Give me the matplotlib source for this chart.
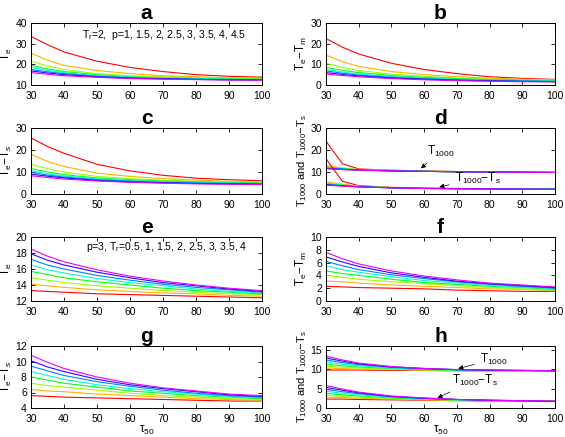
import numpy as np
import matplotlib
matplotlib.use("Agg")
import matplotlib.pyplot as plt

plt.rcParams['font.family'] = ['Liberation Sans', 'DejaVu Sans']
plt.rcParams['mathtext.default'] = 'regular'

# tau_50 sample points
tau = [30, 35, 40, 50, 60, 70, 80, 90, 100]

# ---- top block: Tr=2, p = 1 ... 4.5 (red -> magenta)
a_Te = [
    [33.5, 29.5, 26.0, 21.5, 18.5, 16.5, 15.0, 14.2, 13.8],
    [25.5, 22.0, 19.5, 17.0, 15.5, 14.5, 14.0, 13.5, 13.2],
    [21.5, 19.2, 17.5, 15.5, 14.5, 14.0, 13.5, 13.2, 13.0],
    [19.5, 17.8, 16.5, 15.0, 14.0, 13.5, 13.2, 13.0, 12.8],
    [18.5, 17.1, 16.0, 14.5, 13.8, 13.3, 13.0, 12.8, 12.6],
    [17.5, 16.4, 15.5, 14.2, 13.5, 13.1, 12.8, 12.6, 12.5],
    [16.8, 15.8, 15.0, 14.0, 13.3, 13.0, 12.7, 12.5, 12.4],
    [16.0, 15.2, 14.5, 13.7, 13.1, 12.8, 12.6, 12.4, 12.3],
]
b_TeTm = [
    [22.5, 18.3, 15.0, 10.5, 7.5, 5.5, 4.0, 3.2, 2.7],
    [14.5, 11.3, 9.0, 6.5, 5.0, 4.0, 3.3, 2.8, 2.5],
    [10.5, 8.5, 7.0, 5.3, 4.2, 3.4, 2.9, 2.5, 2.2],
    [8.5, 7.1, 6.0, 4.6, 3.7, 3.1, 2.6, 2.3, 2.0],
    [7.5, 6.3, 5.3, 4.1, 3.3, 2.8, 2.4, 2.1, 1.9],
    [6.8, 5.7, 4.8, 3.7, 3.0, 2.5, 2.2, 1.9, 1.7],
    [6.0, 5.1, 4.4, 3.4, 2.8, 2.3, 2.0, 1.8, 1.6],
    [5.2, 4.6, 4.0, 3.1, 2.5, 2.1, 1.8, 1.6, 1.5],
]
c_TeTs = [
    [25.5, 21.6, 18.5, 13.5, 10.5, 8.5, 7.2, 6.5, 6.0],
    [18.0, 14.8, 12.5, 9.5, 8.0, 7.0, 6.3, 5.8, 5.5],
    [13.5, 11.5, 10.0, 8.0, 7.0, 6.3, 5.8, 5.4, 5.2],
    [11.5, 10.0, 8.8, 7.3, 6.5, 5.9, 5.5, 5.2, 5.0],
    [10.5, 9.2, 8.2, 6.9, 6.1, 5.6, 5.2, 5.0, 4.8],
    [9.8, 8.6, 7.7, 6.5, 5.8, 5.3, 5.0, 4.8, 4.6],
    [9.0, 8.1, 7.3, 6.2, 5.5, 5.1, 4.8, 4.6, 4.4],
    [8.3, 7.5, 6.8, 5.9, 5.3, 4.9, 4.6, 4.4, 4.3],
]
d_T1000 = [
    [24.0, 13.8, 11.4, 10.8, 10.5, 10.2, 10.0, 9.9, 9.8],
    [13.0, 11.8, 11.2, 10.7, 10.4, 10.2, 10.0, 9.9, 9.8],
    [12.5, 11.6, 11.1, 10.6, 10.4, 10.1, 10.0, 9.9, 9.8],
    [12.2, 11.5, 11.0, 10.6, 10.3, 10.1, 10.0, 9.9, 9.8],
    [12.0, 11.4, 11.0, 10.6, 10.3, 10.1, 10.0, 9.9, 9.8],
    [11.8, 11.3, 10.9, 10.5, 10.3, 10.1, 10.0, 9.9, 9.8],
    [11.6, 11.2, 10.9, 10.5, 10.3, 10.1, 10.0, 9.9, 9.8],
    [11.5, 11.1, 10.8, 10.5, 10.3, 10.1, 10.0, 9.9, 9.8],
]
d_T1000Ts = [
    [16.0, 5.8, 3.8, 3.0, 2.7, 2.5, 2.4, 2.3, 2.2],
    [5.5, 4.4, 3.6, 2.9, 2.6, 2.5, 2.4, 2.3, 2.2],
    [5.0, 4.1, 3.5, 2.9, 2.6, 2.5, 2.4, 2.3, 2.2],
    [4.7, 4.0, 3.4, 2.9, 2.6, 2.5, 2.4, 2.3, 2.2],
    [4.5, 3.9, 3.4, 2.8, 2.6, 2.4, 2.3, 2.3, 2.2],
    [4.3, 3.8, 3.3, 2.8, 2.6, 2.4, 2.3, 2.2, 2.2],
    [4.2, 3.7, 3.3, 2.8, 2.5, 2.4, 2.3, 2.2, 2.2],
    [4.0, 3.6, 3.2, 2.8, 2.5, 2.4, 2.3, 2.2, 2.1],
]

# ---- bottom block: p=3, Tr = 0.5 ... 4 (red -> magenta)
e_Te = [
    [13.3, 13.2, 13.1, 12.9, 12.8, 12.7, 12.6, 12.5, 12.4],
    [14.1, 13.9, 13.7, 13.4, 13.2, 13.0, 12.9, 12.7, 12.6],
    [14.9, 14.6, 14.3, 13.9, 13.6, 13.3, 13.1, 12.9, 12.8],
    [15.7, 15.3, 14.9, 14.4, 14.0, 13.6, 13.3, 13.1, 12.9],
    [16.5, 15.9, 15.5, 14.8, 14.3, 13.9, 13.5, 13.2, 13.0],
    [17.2, 16.5, 16.0, 15.2, 14.6, 14.1, 13.7, 13.4, 13.1],
    [17.9, 17.1, 16.5, 15.6, 14.9, 14.3, 13.9, 13.5, 13.2],
    [18.5, 17.6, 16.9, 15.9, 15.1, 14.5, 14.0, 13.6, 13.3],
]
f_TeTm = [
    [2.3, 2.2, 2.1, 2.0, 1.9, 1.7, 1.6, 1.5, 1.5],
    [3.1, 3.0, 2.8, 2.5, 2.3, 2.1, 1.9, 1.8, 1.6],
    [4.0, 3.7, 3.4, 3.0, 2.7, 2.4, 2.1, 1.9, 1.7],
    [4.7, 4.3, 4.0, 3.4, 2.9, 2.6, 2.3, 2.1, 1.8],
    [5.5, 4.9, 4.5, 3.8, 3.2, 2.8, 2.4, 2.2, 1.9],
    [6.2, 5.5, 4.9, 4.1, 3.5, 3.0, 2.6, 2.3, 2.0],
    [6.9, 6.1, 5.4, 4.4, 3.7, 3.1, 2.7, 2.4, 2.1],
    [7.6, 6.6, 5.8, 4.7, 3.9, 3.3, 2.8, 2.5, 2.2],
]
g_TeTs = [
    [5.6, 5.5, 5.4, 5.3, 5.2, 5.1, 5.0, 4.9, 4.9],
    [6.4, 6.2, 6.1, 5.8, 5.6, 5.4, 5.2, 5.1, 5.0],
    [7.2, 6.9, 6.7, 6.3, 5.9, 5.6, 5.4, 5.2, 5.1],
    [8.0, 7.6, 7.2, 6.7, 6.2, 5.9, 5.6, 5.4, 5.2],
    [8.7, 8.2, 7.7, 7.0, 6.5, 6.1, 5.8, 5.5, 5.3],
    [9.4, 8.8, 8.2, 7.4, 6.8, 6.3, 5.9, 5.6, 5.4],
    [10.1, 9.3, 8.7, 7.7, 7.0, 6.5, 6.1, 5.7, 5.5],
    [10.8, 9.9, 9.1, 8.0, 7.2, 6.6, 6.2, 5.8, 5.6],
]
h_T1000 = [
    [9.8, 9.8, 9.8, 9.7, 9.7, 9.6, 9.6, 9.6, 9.6],
    [10.3, 10.2, 10.0, 9.9, 9.8, 9.7, 9.6, 9.6, 9.6],
    [10.8, 10.5, 10.3, 10.0, 9.8, 9.7, 9.7, 9.6, 9.6],
    [11.3, 10.9, 10.6, 10.2, 9.9, 9.8, 9.7, 9.6, 9.6],
    [11.9, 11.3, 10.9, 10.3, 10.0, 9.8, 9.7, 9.6, 9.6],
    [12.4, 11.7, 11.2, 10.5, 10.1, 9.9, 9.7, 9.7, 9.6],
    [12.9, 12.1, 11.4, 10.6, 10.2, 9.9, 9.8, 9.7, 9.6],
    [13.4, 12.4, 11.6, 10.7, 10.2, 9.9, 9.8, 9.7, 9.6],
]
h_T1000Ts = [
    [2.3, 2.3, 2.2, 2.1, 2.0, 1.9, 1.8, 1.8, 1.7],
    [2.8, 2.7, 2.5, 2.3, 2.1, 2.0, 1.9, 1.8, 1.7],
    [3.3, 3.0, 2.8, 2.5, 2.2, 2.0, 1.9, 1.8, 1.7],
    [3.8, 3.4, 3.1, 2.6, 2.3, 2.1, 1.9, 1.8, 1.7],
    [4.3, 3.8, 3.4, 2.8, 2.4, 2.1, 2.0, 1.8, 1.7],
    [4.8, 4.2, 3.7, 2.9, 2.5, 2.2, 2.0, 1.8, 1.7],
    [5.3, 4.6, 3.9, 3.0, 2.5, 2.2, 2.0, 1.9, 1.7],
    [5.8, 4.9, 4.1, 3.1, 2.6, 2.2, 2.0, 1.9, 1.8],
]

colors = plt.cm.hsv(np.linspace(0, 0.83, 8))

W, H = 565, 437
fig = plt.figure(figsize=(W / 100, H / 100), dpi=100)

cols = [(31, 262), (326, 555)]
rows = [(23, 85), (128, 194), (237, 301), (346, 408)]


def make_ax(r, c):
    x0, x1 = cols[c]
    y0, y1 = rows[r]
    ax = fig.add_axes([x0 / W, 1 - y1 / H, (x1 - x0) / W, (y1 - y0) / H])
    ax.tick_params(direction='in', top=True, right=True, labelsize=7.5, length=3, width=0.6)
    ax.tick_params(axis='x', pad=4)
    ax.tick_params(axis='y', pad=3)
    for s in ax.spines.values():
        s.set_linewidth(0.7)
    ax.set_xlim(30, 100)
    ax.set_xticks(range(30, 101, 10))
    return ax


def draw(ax, series):
    for i, ys in enumerate(series):
        ax.plot(tau, ys, color=colors[i], lw=0.8)


panels = [
    (0, 0, 'a', [a_Te], 'T$_e$', (10, 40), [10, 20, 30, 40]),
    (0, 1, 'b', [b_TeTm], 'T$_e$−T$_m$', (0, 30), [0, 10, 20, 30]),
    (1, 0, 'c', [c_TeTs], 'T$_e$−T$_s$', (0, 30), [0, 10, 20, 30]),
    (1, 1, 'd', [d_T1000, d_T1000Ts], 'T$_{1000}$ and T$_{1000}$−T$_s$', (0, 30), [0, 10, 20, 30]),
    (2, 0, 'e', [e_Te], 'T$_e$', (12, 20), [12, 14, 16, 18, 20]),
    (2, 1, 'f', [f_TeTm], 'T$_e$−T$_m$', (0, 10), [0, 2, 4, 6, 8, 10]),
    (3, 0, 'g', [g_TeTs], 'T$_e$−T$_s$', (4, 12), [4, 6, 8, 10, 12]),
    (3, 1, 'h', [h_T1000, h_T1000Ts], 'T$_{1000}$ and T$_{1000}$−T$_s$', (0, 16), [0, 5, 10, 15]),
]

axes = {}
for r, c, lab, groups, ylab, ylim, yt in panels:
    ax = make_ax(r, c)
    for g in groups:
        draw(ax, g)
    ax.set_ylim(*ylim)
    ax.set_yticks(yt)
    fs = 8 if lab in ('d', 'h') else 8.5
    ax.set_ylabel(ylab, fontsize=fs, labelpad=1)
    ax.set_title(lab, fontsize=15, fontweight='bold', pad=3)
    axes[lab] = ax

axes['a'].text(45.5, 34, 'T$_r$=2,  p=1, 1.5, 2, 2.5, 3, 3.5, 4, 4.5', fontsize=7.5, va='center')
axes['e'].text(46.7, 18.75, 'p=3, T$_r$=0.5, 1, 1.5, 2, 2.5, 3, 3.5, 4', fontsize=7.5, va='center')

arrow = dict(arrowstyle='-|>', color='k', lw=0.5, mutation_scale=7)
axes['d'].annotate('T$_{1000}$', xy=(58.4, 10.8), xytext=(60.8, 19.5), fontsize=8.5,
                   va='center', arrowprops=arrow)
axes['d'].annotate('T$_{1000}$−T$_s$', xy=(63.8, 2.9), xytext=(69.3, 7.1), fontsize=8.5,
                   va='center', arrowprops=arrow)
axes['h'].annotate('T$_{1000}$', xy=(69.6, 10.0), xytext=(77, 12.5), fontsize=8.5,
                   va='center', arrowprops=arrow)
axes['h'].annotate('T$_{1000}$−T$_s$', xy=(63.3, 2.3), xytext=(68.4, 7.1), fontsize=8.5,
                   va='center', arrowprops=arrow)

axes['g'].set_xlabel('τ$_{50}$', fontsize=8.5, labelpad=0)
axes['h'].set_xlabel('τ$_{50}$', fontsize=8.5, labelpad=0)

fig.savefig('out.png', dpi=100)
